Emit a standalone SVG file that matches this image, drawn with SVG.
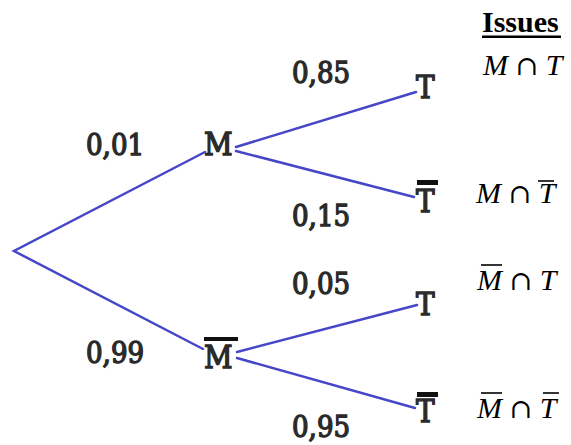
<svg xmlns="http://www.w3.org/2000/svg" width="571" height="445" viewBox="0 0 571 445">
<style>
.lbl{font-family:"DejaVu Serif",serif;font-stretch:condensed;font-size:29px;fill:#2a2a2a;stroke:#2a2a2a;stroke-width:1.3}
.node{font-family:"DejaVu Serif",serif;font-stretch:condensed;font-size:31px;fill:#2a2a2a;stroke:#2a2a2a;stroke-width:1.3}
.edge{stroke:#4646c8;stroke-width:2.5;fill:none;stroke-linecap:round}
.math{font-family:"Liberation Serif",serif;font-size:30px;fill:#000}
.it{font-style:italic}
.cap{font-family:"DejaVu Serif",serif;font-size:27px}
.bar{fill:#111}
.mbar{stroke:#000;stroke-width:1.6}
</style>
<rect width="571" height="445" fill="#fff"/>
<g id="connectors">
<polyline class="edge" points="205,152 14,251 203,349"/>
<line class="edge" x1="236" y1="147" x2="416" y2="92"/>
<line class="edge" x1="236" y1="151" x2="414" y2="197"/>
<line class="edge" x1="237" y1="352" x2="417" y2="305"/>
<line class="edge" x1="237" y1="358" x2="415" y2="408"/>
</g>
<g id="node-M"><text class="node" x="204" y="155">M</text></g>
<g id="node-Mbar"><rect class="bar" x="204" y="337" width="34" height="4"/><text class="node" x="204" y="368">M</text></g>
<g id="node-T1"><text class="node" x="416" y="98">T</text></g>
<g id="node-Tbar1"><rect class="bar" x="417" y="180" width="21" height="5"/><text class="node" x="416" y="212">T</text></g>
<g id="node-T2"><text class="node" x="416" y="315">T</text></g>
<g id="node-Tbar2"><rect class="bar" x="417" y="392" width="21" height="5"/><text class="node" x="416" y="422">T</text></g>
<g id="labels">
<text class="lbl" x="86" y="155">0,01</text>
<text class="lbl" x="86" y="363">0,99</text>
<text class="lbl" x="292" y="83">0,85</text>
<text class="lbl" x="292" y="226">0,15</text>
<text class="lbl" x="292" y="294">0,05</text>
<text class="lbl" x="292" y="437">0,95</text>
</g>
<g id="issues">
<text x="482" y="32" font-family="Liberation Serif,serif" font-weight="bold" font-size="30">Issues</text>
<rect x="482" y="35.5" width="79" height="2.5" fill="#000"/>
<text class="math" x="483" y="75"><tspan class="it">M</tspan> <tspan class="cap">∩</tspan> <tspan class="it">T</tspan></text>
<text class="math" x="476" y="203"><tspan class="it">M</tspan> <tspan class="cap">∩</tspan> <tspan class="it">T</tspan></text>
<line class="mbar" x1="538" y1="181" x2="554" y2="181"/>
<text class="math" x="477" y="290"><tspan class="it">M</tspan>  <tspan class="cap">∩</tspan> <tspan class="it">T</tspan></text>
<line class="mbar" x1="481" y1="265" x2="502" y2="265"/>
<text class="math" x="477" y="418"><tspan class="it">M</tspan>  <tspan class="cap">∩</tspan> <tspan class="it">T</tspan></text>
<line class="mbar" x1="481" y1="393" x2="502" y2="393"/>
<line class="mbar" x1="543" y1="393" x2="559" y2="393"/>
</g>
</svg>
